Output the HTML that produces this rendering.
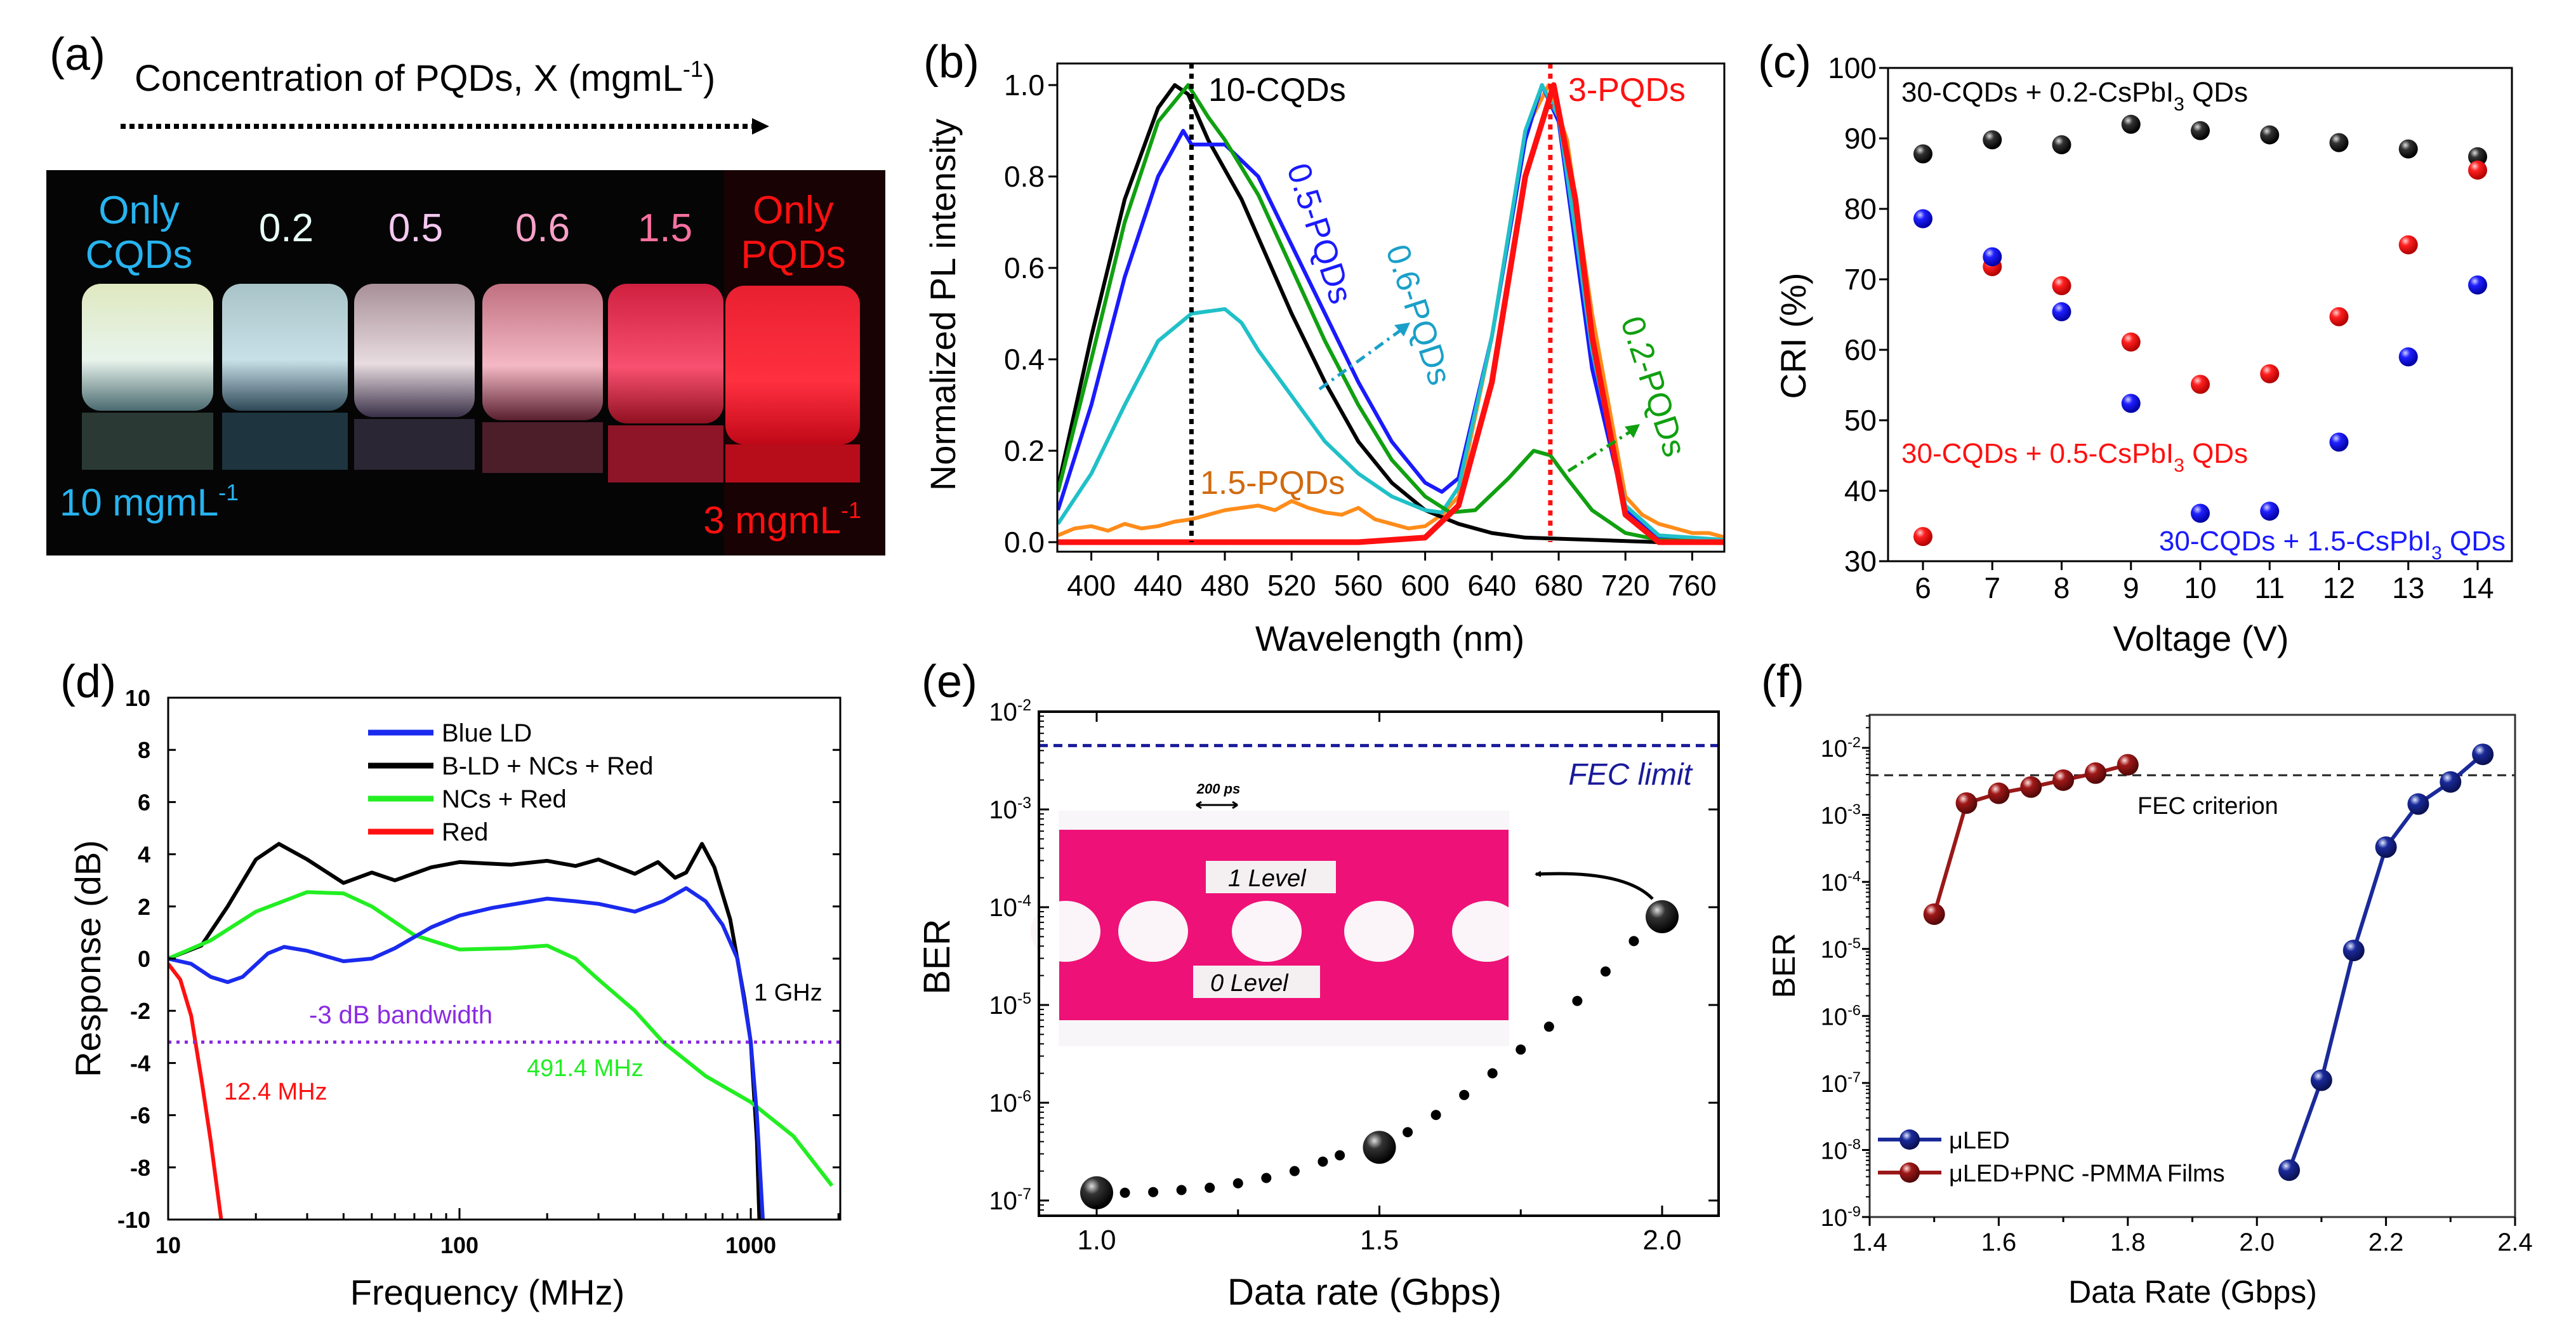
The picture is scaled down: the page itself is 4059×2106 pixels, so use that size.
<!DOCTYPE html>
<html><head><meta charset="utf-8"><style>
html,body{margin:0;padding:0;background:#fff;}
svg{display:block;font-family:"Liberation Sans",Arial,sans-serif;}
</style></head><body>
<svg id="fig" width="4059" height="2106" viewBox="0 0 4059 2106" xmlns="http://www.w3.org/2000/svg">
<defs>
<radialGradient id="gBlack" cx="0.35" cy="0.3" r="0.7"><stop offset="0" stop-color="#ddd"/><stop offset="0.35" stop-color="#333"/><stop offset="1" stop-color="#000"/></radialGradient>
<radialGradient id="gRed" cx="0.35" cy="0.3" r="0.7"><stop offset="0" stop-color="#ffd0d0"/><stop offset="0.35" stop-color="#ff2020"/><stop offset="1" stop-color="#b00000"/></radialGradient>
<radialGradient id="gBlue" cx="0.35" cy="0.3" r="0.7"><stop offset="0" stop-color="#d0d0ff"/><stop offset="0.35" stop-color="#2020ff"/><stop offset="1" stop-color="#0000a0"/></radialGradient>
<radialGradient id="gNavy" cx="0.35" cy="0.3" r="0.7"><stop offset="0" stop-color="#e0e8ff"/><stop offset="0.35" stop-color="#1a2a9a"/><stop offset="1" stop-color="#0a1050"/></radialGradient>
<radialGradient id="gMaroon" cx="0.35" cy="0.3" r="0.7"><stop offset="0" stop-color="#ffe0e0"/><stop offset="0.35" stop-color="#a01818"/><stop offset="1" stop-color="#500808"/></radialGradient>
<linearGradient id="v1" x1="0" y1="0" x2="0" y2="1"><stop offset="0" stop-color="#dfe8c0"/><stop offset="0.6" stop-color="#e8f4ec"/><stop offset="1" stop-color="#4a6a70"/></linearGradient>
<linearGradient id="v2" x1="0" y1="0" x2="0" y2="1"><stop offset="0" stop-color="#a8c4c8"/><stop offset="0.6" stop-color="#c8e0e8"/><stop offset="1" stop-color="#2e4858"/></linearGradient>
<linearGradient id="v3" x1="0" y1="0" x2="0" y2="1"><stop offset="0" stop-color="#a89098"/><stop offset="0.6" stop-color="#e8dce0"/><stop offset="1" stop-color="#3a3048"/></linearGradient>
<linearGradient id="v4" x1="0" y1="0" x2="0" y2="1"><stop offset="0" stop-color="#c07080"/><stop offset="0.6" stop-color="#f4b8c4"/><stop offset="1" stop-color="#5a2030"/></linearGradient>
<linearGradient id="v5" x1="0" y1="0" x2="0" y2="1"><stop offset="0" stop-color="#d02040"/><stop offset="0.6" stop-color="#f85070"/><stop offset="1" stop-color="#901020"/></linearGradient>
<linearGradient id="v6" x1="0" y1="0" x2="0" y2="1"><stop offset="0" stop-color="#e82030"/><stop offset="0.6" stop-color="#ff3040"/><stop offset="1" stop-color="#c00818"/></linearGradient>
<marker id="arrBlk" markerWidth="10" markerHeight="10" refX="8" refY="5" orient="auto" markerUnits="userSpaceOnUse"><path d="M0,0 L10,5 L0,10 z" fill="#000"/></marker>
</defs>

<!-- Panel (a) static -->
<g>
<text x="78" y="110" font-size="72">(a)</text>
<text x="212" y="143" font-size="58">Concentration of PQDs, X (mgmL<tspan dy="-22" font-size="36">-1</tspan><tspan dy="22">)</tspan></text>
<line x1="190" y1="199" x2="1190" y2="199" stroke="#000" stroke-width="8" stroke-dasharray="8,6"/>
<path d="M1185,186 L1212,199 L1185,212 z" fill="#000"/>
<rect x="73" y="268" width="1322" height="607" fill="#050505"/>
<rect x="1141" y="268" width="254" height="607" fill="#180204"/>
<rect x="129" y="447" width="207" height="200" rx="30" fill="url(#v1)"/>
<rect x="129" y="650" width="207" height="90" fill="#3a5048" opacity="0.7"/>
<rect x="350" y="447" width="198" height="200" rx="30" fill="url(#v2)"/>
<rect x="350" y="650" width="198" height="90" fill="#2a4a58" opacity="0.7"/>
<rect x="558" y="447" width="190" height="210" rx="30" fill="url(#v3)"/>
<rect x="558" y="660" width="190" height="80" fill="#3a3448" opacity="0.7"/>
<rect x="760" y="447" width="190" height="215" rx="30" fill="url(#v4)"/>
<rect x="760" y="665" width="190" height="80" fill="#6a2a3a" opacity="0.7"/>
<rect x="958" y="447" width="182" height="220" rx="30" fill="url(#v5)"/>
<rect x="958" y="670" width="182" height="90" fill="#b01830" opacity="0.8"/>
<rect x="1143" y="450" width="212" height="250" rx="30" fill="url(#v6)"/>
<rect x="1143" y="700" width="212" height="60" fill="#e01020" opacity="0.8"/>
<g font-size="62" text-anchor="middle">
<text x="219" y="352" fill="#27b4f0">Only</text>
<text x="219" y="422" fill="#27b4f0">CQDs</text>
<text x="451" y="380" fill="#e8fff8">0.2</text>
<text x="655" y="380" fill="#f4c8f0">0.5</text>
<text x="855" y="380" fill="#f8a0c8">0.6</text>
<text x="1048" y="380" fill="#f870a0">1.5</text>
<text x="1250" y="352" fill="#ff1010">Only</text>
<text x="1250" y="422" fill="#ff1010">PQDs</text>
</g>
<text x="94" y="812" font-size="60" fill="#27b4f0">10 mgmL<tspan dy="-24" font-size="36">-1</tspan></text>
<text x="1357" y="840" font-size="60" fill="#ff1010" text-anchor="end">3 mgmL<tspan dy="-24" font-size="36">-1</tspan></text>
</g>

<g id="pb"></g>
<g id="pc"></g>
<g id="pd"></g>
<g id="pe"></g>
<g id="pf"></g>
</svg>
<script>
// ---------- Panel (b) data ----------
const bBlackX=[380,400,420,440,450,458,470,490,520,540,560,580,600,620,640,660,700,740,780];
const bBlackY=[0.12,0.45,0.75,0.95,1.0,0.98,0.88,0.75,0.5,0.35,0.22,0.13,0.07,0.04,0.02,0.01,0.005,0.0,0.0];
const bGreenX=[380,400,420,440,458,470,480,500,520,540,560,580,600,615,630,650,665,675,685,700,720,740,780];
const bGreenY=[0.11,0.4,0.7,0.92,1.0,0.93,0.88,0.76,0.6,0.44,0.3,0.18,0.1,0.065,0.07,0.14,0.2,0.19,0.14,0.07,0.02,0.005,0.0];
const bBlueX=[380,400,420,440,455,460,480,500,520,540,560,580,600,610,620,640,660,670,680,690,700,720,740,780];
const bBlueY=[0.07,0.3,0.58,0.8,0.9,0.87,0.87,0.8,0.65,0.5,0.35,0.22,0.13,0.11,0.14,0.45,0.88,1.0,0.92,0.65,0.38,0.07,0.01,0.0];
const bCyanX=[380,400,420,440,460,480,490,500,520,540,560,580,600,610,620,640,660,670,680,690,700,720,740,780];
const bCyanY=[0.04,0.15,0.3,0.44,0.5,0.51,0.48,0.42,0.32,0.22,0.15,0.1,0.07,0.065,0.12,0.45,0.9,1.0,0.93,0.68,0.42,0.08,0.015,0.005];
const bOrangeX=[380,390,400,410,420,430,440,450,460,470,480,490,500,510,520,530,540,550,560,570,580,590,600,610,620,640,660,674,685,700,720,730,740,750,760,770,780];
const bOrangeY=[0.015,0.03,0.035,0.025,0.04,0.03,0.035,0.045,0.05,0.06,0.07,0.075,0.08,0.07,0.09,0.075,0.065,0.06,0.075,0.05,0.04,0.03,0.035,0.06,0.1,0.45,0.9,1.0,0.88,0.5,0.1,0.06,0.04,0.03,0.02,0.02,0.01];
const bRedX=[380,560,600,620,640,660,677,690,700,720,740,780];
const bRedY=[0.0,0.0,0.01,0.08,0.35,0.8,1.0,0.75,0.45,0.06,0.0,0.0];
const bXTicks=[400,440,480,520,560,600,640,680,720,760];
const bYTicks=[0.0,0.2,0.4,0.6,0.8,1.0];
const bYTickLabels=["0.0","0.2","0.4","0.6","0.8","1.0"];
const bVLines=[460,675];
// ---------- Panel (c) data ----------
const cVolt=[6,7,8,9,10,11,12,13,14];
const cBlack=[87.8,89.8,89.1,92,91.1,90.5,89.4,88.5,87.4];
const cRed=[33.5,71.8,69.1,61.1,55.1,56.6,64.7,74.9,85.5];
const cBlue=[78.6,73.2,65.4,52.4,36.8,37.1,46.9,59,69.2];
const cYTicks=[30,40,50,60,70,80,90,100];
// ---------- Panel (d) data ----------
const dBlueF=[10,12,14,16,18,22,25,30,40,50,60,80,100,130,200,250,300,400,500,600,700,800,900,1000,1050,1100];
const dBlueR=[0,-0.2,-0.7,-0.9,-0.7,0.2,0.45,0.3,-0.1,0,0.4,1.2,1.65,1.95,2.3,2.2,2.1,1.8,2.2,2.7,2.2,1.3,0,-3.2,-6,-10];
const dBlackF=[10,13,16,20,24,30,40,50,60,80,100,150,200,250,300,400,480,550,600,680,750,850,950,1000,1050,1070];
const dBlackR=[0,0.5,2,3.8,4.4,3.8,2.9,3.3,3.0,3.5,3.7,3.6,3.75,3.55,3.8,3.25,3.7,3.1,3.3,4.4,3.5,1.5,-1.5,-3.2,-7,-10];
const dGreenF=[10,14,20,30,40,50,70,100,150,200,250,300,400,500,700,1000,1400,1900];
const dGreenR=[0,0.7,1.8,2.55,2.5,2,0.9,0.35,0.4,0.5,0,-0.8,-2,-3.2,-4.5,-5.5,-6.8,-8.7];
const dRedF=[10,11,12,12.4,13,14,15.2];
const dRedR=[-0.2,-0.8,-2.2,-3.2,-4.6,-7,-10];
const dYTicks=[-10,-8,-6,-4,-2,0,2,4,6,8,10];
const dXTicks=[10,100,1000];
const dBandwidth=-3.2;
// ---------- Panel (e) data ----------
const eRate=[1.0,1.5,2.0];
const eBER=[1.2e-7,3.5e-7,8e-5];
const eDotRate=[1.05,1.1,1.15,1.2,1.25,1.3,1.35,1.4,1.43,1.55,1.6,1.65,1.7,1.75,1.8,1.85,1.9,1.95];
const eDotBER=[1.2e-7,1.22e-7,1.28e-7,1.35e-7,1.5e-7,1.7e-7,2.0e-7,2.5e-7,2.9e-7,5e-7,7.5e-7,1.2e-6,2e-6,3.5e-6,6e-6,1.1e-5,2.2e-5,4.5e-5];
const eFEC=4.5e-3;
const eXTicks=[1.0,1.5,2.0];
const eYExp=[-7,-6,-5,-4,-3,-2];
// ---------- Panel (f) data ----------
const fRedRate=[1.5,1.55,1.6,1.65,1.7,1.75,1.8];
const fRedBER=[3.3e-5,1.5e-3,2.1e-3,2.6e-3,3.3e-3,4.2e-3,5.6e-3];
const fBlueRate=[2.05,2.1,2.15,2.2,2.25,2.3,2.35];
const fBlueBER=[5e-9,1.1e-7,9.5e-6,3.3e-4,1.45e-3,3.1e-3,8e-3];
const fFEC=3.9e-3;
const fXTicks=[1.4,1.6,1.8,2.0,2.2,2.4];
const fYExp=[-9,-8,-7,-6,-5,-4,-3,-2];

const NS="http://www.w3.org/2000/svg";
function mk(parent,tag,attrs,txt){const e=document.createElementNS(NS,tag);for(const k in attrs)e.setAttribute(k,attrs[k]);if(txt!==undefined)e.textContent=txt;parent.appendChild(e);return e;}
function lin(d0,d1,r0,r1){return v=>r0+(v-d0)/(d1-d0)*(r1-r0);}
function lg(d0,d1,r0,r1){return v=>r0+(Math.log10(v)-Math.log10(d0))/(Math.log10(d1)-Math.log10(d0))*(r1-r0);}
function pathD(xs,ys,sx,sy){return xs.map((x,i)=>(i?'L':'M')+sx(x).toFixed(1)+','+sy(ys[i]).toFixed(1)).join(' ');}
function supText(g,x,y,base,exp,fs,anchor){const t=mk(g,'text',{x:x,y:y,'font-size':fs,'text-anchor':anchor||'end'});t.textContent=base;const s=mk(t,'tspan',{dy:-fs*0.4,'font-size':fs*0.62});s.textContent=exp;return t;}

// ===== Panel B =====
(function(){
const g=document.getElementById('pb');
const L=1666,R=2717,T=100,B=869;
const sx=lin(380,780,1667,2719), sy=lin(0,1,854,134);
let e;
e=mk(g,'text',{x:1455,y:122,'font-size':72},'(b)');


const colors=[['#ff8c1a',bOrangeX,bOrangeY,'orange-1.5-pqds'],['#000000',bBlackX,bBlackY,'black-10-cqds'],['#1a1aff',bBlueX,bBlueY,'blue-0.5-pqds'],['#20c0c8',bCyanX,bCyanY,'cyan-0.6-pqds'],['#10a010',bGreenX,bGreenY,'green-0.2-pqds'],['#ff1010',bRedX,bRedY,'red-3-pqds']];
const clip=mk(g,'clipPath',{id:'clipb'});mk(clip,'rect',{x:L,y:T,width:R-L,height:B-T});
const cg=mk(g,'g',{'clip-path':'url(#clipb)'});


colors.forEach(c=>{e=mk(cg,'path',{d:pathD(c[1],c[2],sx,sy),fill:'none',stroke:c[0],'stroke-width':c[3]=='red-3-pqds'?9:6,'stroke-linejoin':'round'});

});
bVLines.forEach((v,i)=>{e=mk(cg,'line',{x1:sx(v),x2:sx(v),y1:T,y2:854,stroke:i?'#ff1010':'#000','stroke-width':7,'stroke-dasharray':'8,8'});

});
e=mk(g,'rect',{x:L,y:T,width:R-L,height:B-T,fill:'none',stroke:'#000','stroke-width':3});


bXTicks.forEach(v=>{mk(g,'line',{x1:sx(v),x2:sx(v),y1:B,y2:B+14,stroke:'#000','stroke-width':3});
e=mk(g,'text',{x:sx(v),y:938,'font-size':46,'text-anchor':'middle'},String(v));

});
bYTicks.forEach((v,i)=>{mk(g,'line',{x1:L-14,x2:L,y1:sy(v),y2:sy(v),stroke:'#000','stroke-width':3});
e=mk(g,'text',{x:L-20,y:sy(v)+16,'font-size':46,'text-anchor':'end'},bYTickLabels[i]);

});
e=mk(g,'text',{x:2190,y:1025,'font-size':56,'text-anchor':'middle'},'Wavelength (nm)');


e=mk(g,'text',{x:1505,y:480,'font-size':56,'text-anchor':'middle',transform:'rotate(-90 1505 480)'},'Normalized PL intensity');


e=mk(g,'text',{x:1904,y:159,'font-size':52},'10-CQDs');


e=mk(g,'text',{x:2471,y:159,'font-size':52,fill:'#ff1010'},'3-PQDs');


e=mk(g,'text',{x:2079,y:385,'font-size':52,fill:'#1a1aff','text-anchor':'middle',transform:'rotate(72 2079 368)'},'0.5-PQDs');


e=mk(g,'text',{x:2235,y:513,'font-size':52,fill:'#1aa0c8','text-anchor':'middle',transform:'rotate(72 2235 496)'},'0.6-PQDs');


e=mk(g,'text',{x:2605,y:626,'font-size':52,fill:'#10a010','text-anchor':'middle',transform:'rotate(72 2605 609)'},'0.2-PQDs');


e=mk(g,'text',{x:1891,y:778,'font-size':52,fill:'#d06a10'},'1.5-PQDs');


e=mk(g,'path',{d:'M2079,613 L2210,518',stroke:'#1aa0c8','stroke-width':5,'stroke-dasharray':'16,8,4,8',fill:'none'});


mk(g,'path',{d:'M2222,508 L2197,512 L2212,530 z',fill:'#1aa0c8'});
e=mk(g,'path',{d:'M2471,742 L2572,678',stroke:'#10a010','stroke-width':5,'stroke-dasharray':'16,8,4,8',fill:'none'});


mk(g,'path',{d:'M2584,668 L2560,672 L2574,690 z',fill:'#10a010'});
})();

// ===== Panel C =====
(function(){
const g=document.getElementById('pc');
const L=2975,R=3958,T=107,B=884;
const sx=lin(6,14,3030,3904), sy=lin(30,100,884,107);
let e;
e=mk(g,'text',{x:2770,y:122,'font-size':72},'(c)');


e=mk(g,'rect',{x:L,y:T,width:R-L,height:B-T,fill:'none',stroke:'#000','stroke-width':3});


cVolt.forEach(v=>{mk(g,'line',{x1:sx(v),x2:sx(v),y1:B,y2:B+14,stroke:'#000','stroke-width':3});
e=mk(g,'text',{x:sx(v),y:942,'font-size':46,'text-anchor':'middle'},String(v));

});
cYTicks.forEach(v=>{mk(g,'line',{x1:L-14,x2:L,y1:sy(v),y2:sy(v),stroke:'#000','stroke-width':3});
e=mk(g,'text',{x:L-18,y:sy(v)+16,'font-size':46,'text-anchor':'end'},String(v));

});
[[cBlack,'url(#gBlack)','black'],[cRed,'url(#gRed)','red'],[cBlue,'url(#gBlue)','blue']].forEach(s=>{
s[0].forEach((v,i)=>{e=mk(g,'circle',{cx:sx(cVolt[i]),cy:sy(v),r:15,fill:s[1]});

});});
e=mk(g,'text',{x:2996,y:160,'font-size':44},'30-CQDs + 0.2-CsPbI');


let s=mk(e,'tspan',{dy:14,'font-size':30},'3');s=mk(e,'tspan',{dy:-14},' QDs');
e=mk(g,'text',{x:2996,y:729,'font-size':44,fill:'#ff1010'},'30-CQDs + 0.5-CsPbI');


mk(e,'tspan',{dy:14,'font-size':30},'3');mk(e,'tspan',{dy:-14},' QDs');
e=mk(g,'text',{x:3948,y:867,'font-size':44,fill:'#1a1aff','text-anchor':'end'},'30-CQDs + 1.5-CsPbI');


mk(e,'tspan',{dy:14,'font-size':30},'3');mk(e,'tspan',{dy:-14},' QDs');
e=mk(g,'text',{x:3468,y:1025,'font-size':56,'text-anchor':'middle'},'Voltage (V)');


e=mk(g,'text',{x:2845,y:529,'font-size':56,'text-anchor':'middle',transform:'rotate(-90 2845 529)'},'CRI (%)');


})();

// ===== Panel D =====
(function(){
const g=document.getElementById('pd');
const L=265,R=1324,T=1099,B=1921;
const sx=lg(10,1000,265,1183), sy=lin(-10,10,1921,1099);
let e;
e=mk(g,'text',{x:95,y:1098,'font-size':72},'(d)');


const clip=mk(g,'clipPath',{id:'clipd'});mk(clip,'rect',{x:L,y:T,width:R-L,height:B-T});
const cg=mk(g,'g',{'clip-path':'url(#clipd)'});
[[dBlackF,dBlackR,'#000','b-ld-nc-red'],[dGreenF,dGreenR,'#22ee22','ncs-red'],[dBlueF,dBlueR,'#1a2aee','blue-ld'],[dRedF,dRedR,'#ff1010','red']].forEach(s=>{
e=mk(cg,'path',{d:pathD(s[0],s[1],sx,sy),fill:'none',stroke:s[2],'stroke-width':6,'stroke-linejoin':'round'});

});
e=mk(cg,'line',{x1:L,x2:R,y1:sy(dBandwidth),y2:sy(dBandwidth),stroke:'#8a2be2','stroke-width':5,'stroke-dasharray':'5,8'});


e=mk(g,'rect',{x:L,y:T,width:R-L,height:B-T,fill:'none',stroke:'#000','stroke-width':3});


dYTicks.forEach(v=>{mk(g,'line',{x1:L,x2:L+12,y1:sy(v),y2:sy(v),stroke:'#000','stroke-width':3});mk(g,'line',{x1:R-12,x2:R,y1:sy(v),y2:sy(v),stroke:'#000','stroke-width':3});
e=mk(g,'text',{x:L-28,y:sy(v)+13,'font-size':36,'font-weight':'bold','text-anchor':'end'},String(v));

});
dXTicks.forEach(v=>{e=mk(g,'text',{x:sx(v),y:1974,'font-size':36,'font-weight':'bold','text-anchor':'middle'},String(v));

});
[20,30,40,50,60,70,80,90,200,300,400,500,600,700,800,900,2000].forEach(v=>{if(sx(v)<R)mk(g,'line',{x1:sx(v),x2:sx(v),y1:B-10,y2:B,stroke:'#000','stroke-width':3});});
[10,100,1000].forEach(v=>mk(g,'line',{x1:sx(v),x2:sx(v),y1:B-18,y2:B,stroke:'#000','stroke-width':3}));
const leg=[['#1a2aee','Blue LD'],['#000','B-LD + NCs + Red'],['#22ee22','NCs + Red'],['#ff1010','Red']];
leg.forEach((l,i)=>{const y=1154+i*52;
e=mk(g,'line',{x1:580,x2:683,y1:y,y2:y,stroke:l[0],'stroke-width':9});


e=mk(g,'text',{x:696,y:y+14,'font-size':40},l[1]);

});
e=mk(g,'text',{x:487,y:1612,'font-size':40,fill:'#8a2be2'},'-3 dB bandwidth');


e=mk(g,'text',{x:830,y:1695,'font-size':38,fill:'#22ee22'},'491.4 MHz');


e=mk(g,'text',{x:353,y:1732,'font-size':38,fill:'#ff1010'},'12.4 MHz');


e=mk(g,'text',{x:1188,y:1576,'font-size':38},'1 GHz');


e=mk(g,'text',{x:768,y:2055,'font-size':56,'text-anchor':'middle'},'Frequency (MHz)');


e=mk(g,'text',{x:158,y:1510,'font-size':56,'text-anchor':'middle',transform:'rotate(-90 158 1510)'},'Response (dB)');


})();

// ===== Panel E =====
(function(){
const g=document.getElementById('pe');
const L=1637,R=2708,T=1121,B=1915;
const sx=lin(1.0,2.0,1728,2619), sy=lg(1e-7,1e-2,1891,1121);
let e;
e=mk(g,'text',{x:1452,y:1098,'font-size':72},'(e)');


// eye diagram inset
const ig=mk(g,'g',{});


mk(ig,'rect',{x:1668,y:1277,width:710,height:371,fill:'#f8f6f8'});
mk(ig,'rect',{x:1669,y:1307,width:708,height:300,fill:'#ee1177'});
[1679,1817,1996,2173,2343].forEach(cx=>mk(ig,'ellipse',{cx:cx,cy:1467,rx:55,ry:48,fill:'#fbf4f8'}));
mk(ig,'rect',{x:1640,y:1410,width:29,height:120,fill:'#fff'});
mk(ig,'rect',{x:2378,y:1410,width:30,height:120,fill:'#fff'});
e=mk(ig,'rect',{x:1900,y:1356,width:205,height:51,fill:'#f4f0f2'});


e=mk(ig,'text',{x:1935,y:1396,'font-size':38,'font-style':'italic'},'1 Level');


e=mk(ig,'rect',{x:1880,y:1521,width:200,height:51,fill:'#f4f0f2'});


e=mk(ig,'text',{x:1907,y:1561,'font-size':38,'font-style':'italic'},'0 Level');


e=mk(g,'text',{x:1920,y:1250,'font-size':22,'font-weight':'bold','font-style':'italic','text-anchor':'middle'},'200 ps');


mk(g,'path',{d:'M1885,1268 L1950,1268 M1885,1268 l8,-5 M1885,1268 l8,5 M1950,1268 l-8,-5 M1950,1268 l-8,5',stroke:'#000','stroke-width':3,fill:'none'});
e=mk(g,'line',{x1:L,x2:R,y1:sy(eFEC),y2:sy(eFEC),stroke:'#1a1a9a','stroke-width':5,'stroke-dasharray':'14,9'});


e=mk(g,'text',{x:2666,y:1236,'font-size':48,'font-style':'italic',fill:'#1a1a9a','text-anchor':'end'},'FEC limit');


eDotRate.forEach((v,i)=>{e=mk(g,'circle',{cx:sx(v),cy:sy(eDotBER[i]),r:8,fill:'#000'});

});
e=mk(g,'path',{d:'M'+(sx(2.0)-15)+','+(sy(eBER[2])-28)+' Q2560,1370 2420,1377',stroke:'#000','stroke-width':5,fill:'none','marker-end':'url(#arrBlk)'});


eRate.forEach((v,i)=>{e=mk(g,'circle',{cx:sx(v),cy:sy(eBER[i]),r:26,fill:'url(#gBlack)'});

});
e=mk(g,'rect',{x:L,y:T,width:R-L,height:B-T,fill:'none',stroke:'#000','stroke-width':4});


eXTicks.forEach(v=>{mk(g,'line',{x1:sx(v),x2:sx(v),y1:B-16,y2:B,stroke:'#000','stroke-width':3});mk(g,'line',{x1:sx(v),x2:sx(v),y1:T,y2:T+16,stroke:'#000','stroke-width':3});
e=mk(g,'text',{x:sx(v),y:1968,'font-size':44,'text-anchor':'middle'},v.toFixed(1));

});
[1.25,1.75].forEach(v=>{mk(g,'line',{x1:sx(v),x2:sx(v),y1:B-10,y2:B,stroke:'#000','stroke-width':3});});
eYExp.forEach(p=>{const y=sy(Math.pow(10,p));mk(g,'line',{x1:L,x2:L+16,y1:y,y2:y,stroke:'#000','stroke-width':3});mk(g,'line',{x1:R-16,x2:R,y1:y,y2:y,stroke:'#000','stroke-width':3});
for(let k=2;k<10;k++){const yy=sy(k*Math.pow(10,p-1));if(yy<B&&yy>T)mk(g,'line',{x1:L,x2:L+8,y1:yy,y2:yy,stroke:'#000','stroke-width':2});}
e=supText(g,L-12,y+14,'10',String(p),40,'end');

});
e=mk(g,'text',{x:2150,y:2055,'font-size':58,'text-anchor':'middle'},'Data rate (Gbps)');


e=mk(g,'text',{x:1496,y:1507,'font-size':58,'text-anchor':'middle',transform:'rotate(-90 1496 1507)'},'BER');


})();

// ===== Panel F =====
(function(){
const g=document.getElementById('pf');
const L=2946,R=3963,T=1126,B=1917;
const sx=lin(1.4,2.4,2946,3963), sy=lg(1e-9,1e-2,1917,1178);
let e;
e=mk(g,'text',{x:2775,y:1098,'font-size':72},'(f)');


e=mk(g,'line',{x1:L,x2:R,y1:sy(fFEC),y2:sy(fFEC),stroke:'#222','stroke-width':3,'stroke-dasharray':'14,9'});


e=mk(g,'text',{x:3368,y:1282,'font-size':38},'FEC criterion');


e=mk(g,'path',{d:pathD(fRedRate,fRedBER,sx,sy),stroke:'#9a1818','stroke-width':6,fill:'none'});


e=mk(g,'path',{d:pathD(fBlueRate,fBlueBER,sx,sy),stroke:'#1a2a9a','stroke-width':6,fill:'none'});


fRedRate.forEach((v,i)=>{e=mk(g,'circle',{cx:sx(v),cy:sy(fRedBER[i]),r:17,fill:'url(#gMaroon)'});

});
fBlueRate.forEach((v,i)=>{e=mk(g,'circle',{cx:sx(v),cy:sy(fBlueBER[i]),r:17,fill:'url(#gNavy)'});

});
e=mk(g,'rect',{x:L,y:T,width:R-L,height:B-T,fill:'none',stroke:'#333','stroke-width':3});


fXTicks.forEach(v=>{mk(g,'line',{x1:sx(v),x2:sx(v),y1:B,y2:B+14,stroke:'#000','stroke-width':3});
e=mk(g,'text',{x:sx(v),y:1970,'font-size':40,'text-anchor':'middle'},v.toFixed(1));

});
[1.5,1.7,1.9,2.1,2.3].forEach(v=>mk(g,'line',{x1:sx(v),x2:sx(v),y1:B,y2:B+8,stroke:'#000','stroke-width':3}));
fYExp.forEach(p=>{const y=sy(Math.pow(10,p));mk(g,'line',{x1:L-12,x2:L,y1:y,y2:y,stroke:'#000','stroke-width':3});
for(let k=2;k<10;k++){const yy=sy(k*Math.pow(10,p));if(yy>T)mk(g,'line',{x1:L-6,x2:L,y1:yy,y2:yy,stroke:'#000','stroke-width':2});}
e=supText(g,L-14,y+14,'10',String(p),38,'end');

});
[['#1a2a9a','url(#gNavy)','μLED'],['#9a1818','url(#gMaroon)','μLED+PNC -PMMA Films']].forEach((l,i)=>{const y=1795+i*52;
e=mk(g,'line',{x1:2959,x2:3059,y1:y,y2:y,stroke:l[0],'stroke-width':6});


mk(g,'circle',{cx:3009,cy:y,r:16,fill:l[1]});
e=mk(g,'text',{x:3071,y:y+14,'font-size':38},l[2]);

});
e=mk(g,'text',{x:3455,y:2052,'font-size':50,'text-anchor':'middle'},'Data Rate (Gbps)');


e=mk(g,'text',{x:2828,y:1521,'font-size':50,'text-anchor':'middle',transform:'rotate(-90 2828 1521)'},'BER');


})();
</script>
</body></html>
